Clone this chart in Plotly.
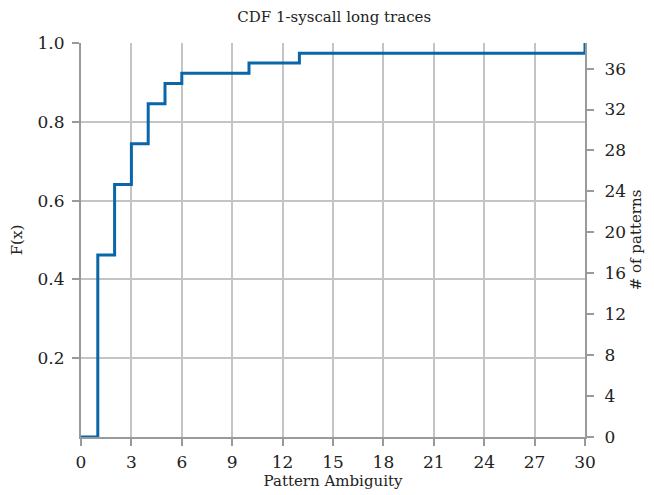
import plotly.graph_objects as go

# Data
ambiguity = [0, 1, 2, 3, 4, 5, 6, 10, 13, 30, 30]
cdf = [0.0, 0.462, 0.641, 0.744, 0.846, 0.897, 0.923, 0.949, 0.974, 0.974, 1.0]
x_ticks = [0, 3, 6, 9, 12, 15, 18, 21, 24, 27, 30]
y_ticks = [0.2, 0.4, 0.6, 0.8, 1.0]
y_tick_labels = ["0.2", "0.4", "0.6", "0.8", "1.0"]
count_ticks = [0, 4, 8, 12, 16, 20, 24, 28, 32, 36]
count_max = 38.5

FONT = "DejaVu Serif"
AXIS_C = "#9a9a9a"
GRID_C = "#c4c4c4"

fig = go.Figure()
fig.add_trace(go.Scatter(
    x=ambiguity, y=cdf, mode="lines", line=dict(shape="hv", color="#0a66a8", width=3),
    showlegend=False, hoverinfo="x+y"))
# empty trace so the right-hand count axis is rendered
fig.add_trace(go.Scatter(x=[], y=[], yaxis="y2", showlegend=False, hoverinfo="skip"))

fig.update_layout(
    width=646, height=487,
    margin=dict(l=73, r=69, t=35, b=58),
    paper_bgcolor="white", plot_bgcolor="white",
    font=dict(family=FONT, size=17, color="#222"),
    title=dict(text="CDF 1-syscall long traces", x=0.505, xanchor="center", y=0.983, yanchor="middle",
               yref="container", pad=dict(t=0, b=0), font=dict(family=FONT, size=15, color="#222")),
    xaxis=dict(range=[0, 30], tickvals=x_ticks, ticks="outside", ticklen=7, tickwidth=2, tickcolor=AXIS_C,
               showline=True, linecolor=AXIS_C, linewidth=2, showgrid=True, gridcolor=GRID_C, gridwidth=2,
               zeroline=False, ticklabelstandoff=2, automargin=False,
               title=dict(text="Pattern Ambiguity", standoff=0, font=dict(size=15))),
    yaxis=dict(range=[0, 1], tickvals=y_ticks, ticktext=y_tick_labels, ticks="outside", ticklen=7,
               tickwidth=2, tickcolor=AXIS_C, showline=True, linecolor=AXIS_C, linewidth=2,
               showgrid=True, gridcolor=GRID_C, gridwidth=2, zeroline=False, ticklabelstandoff=4,
               automargin=False, title=dict(text="F(x)", standoff=12, font=dict(size=15))),
    yaxis2=dict(range=[0, count_max], tickvals=count_ticks, overlaying="y", side="right", anchor="x",
                ticks="outside", ticklen=7, tickwidth=2, tickcolor=AXIS_C, showline=True,
                linecolor=AXIS_C, linewidth=2, showgrid=False, zeroline=False, ticklabelstandoff=7,
                automargin=False, title=dict(text="# of patterns", standoff=5, font=dict(size=15))),
)

fig.write_html("out.html")
